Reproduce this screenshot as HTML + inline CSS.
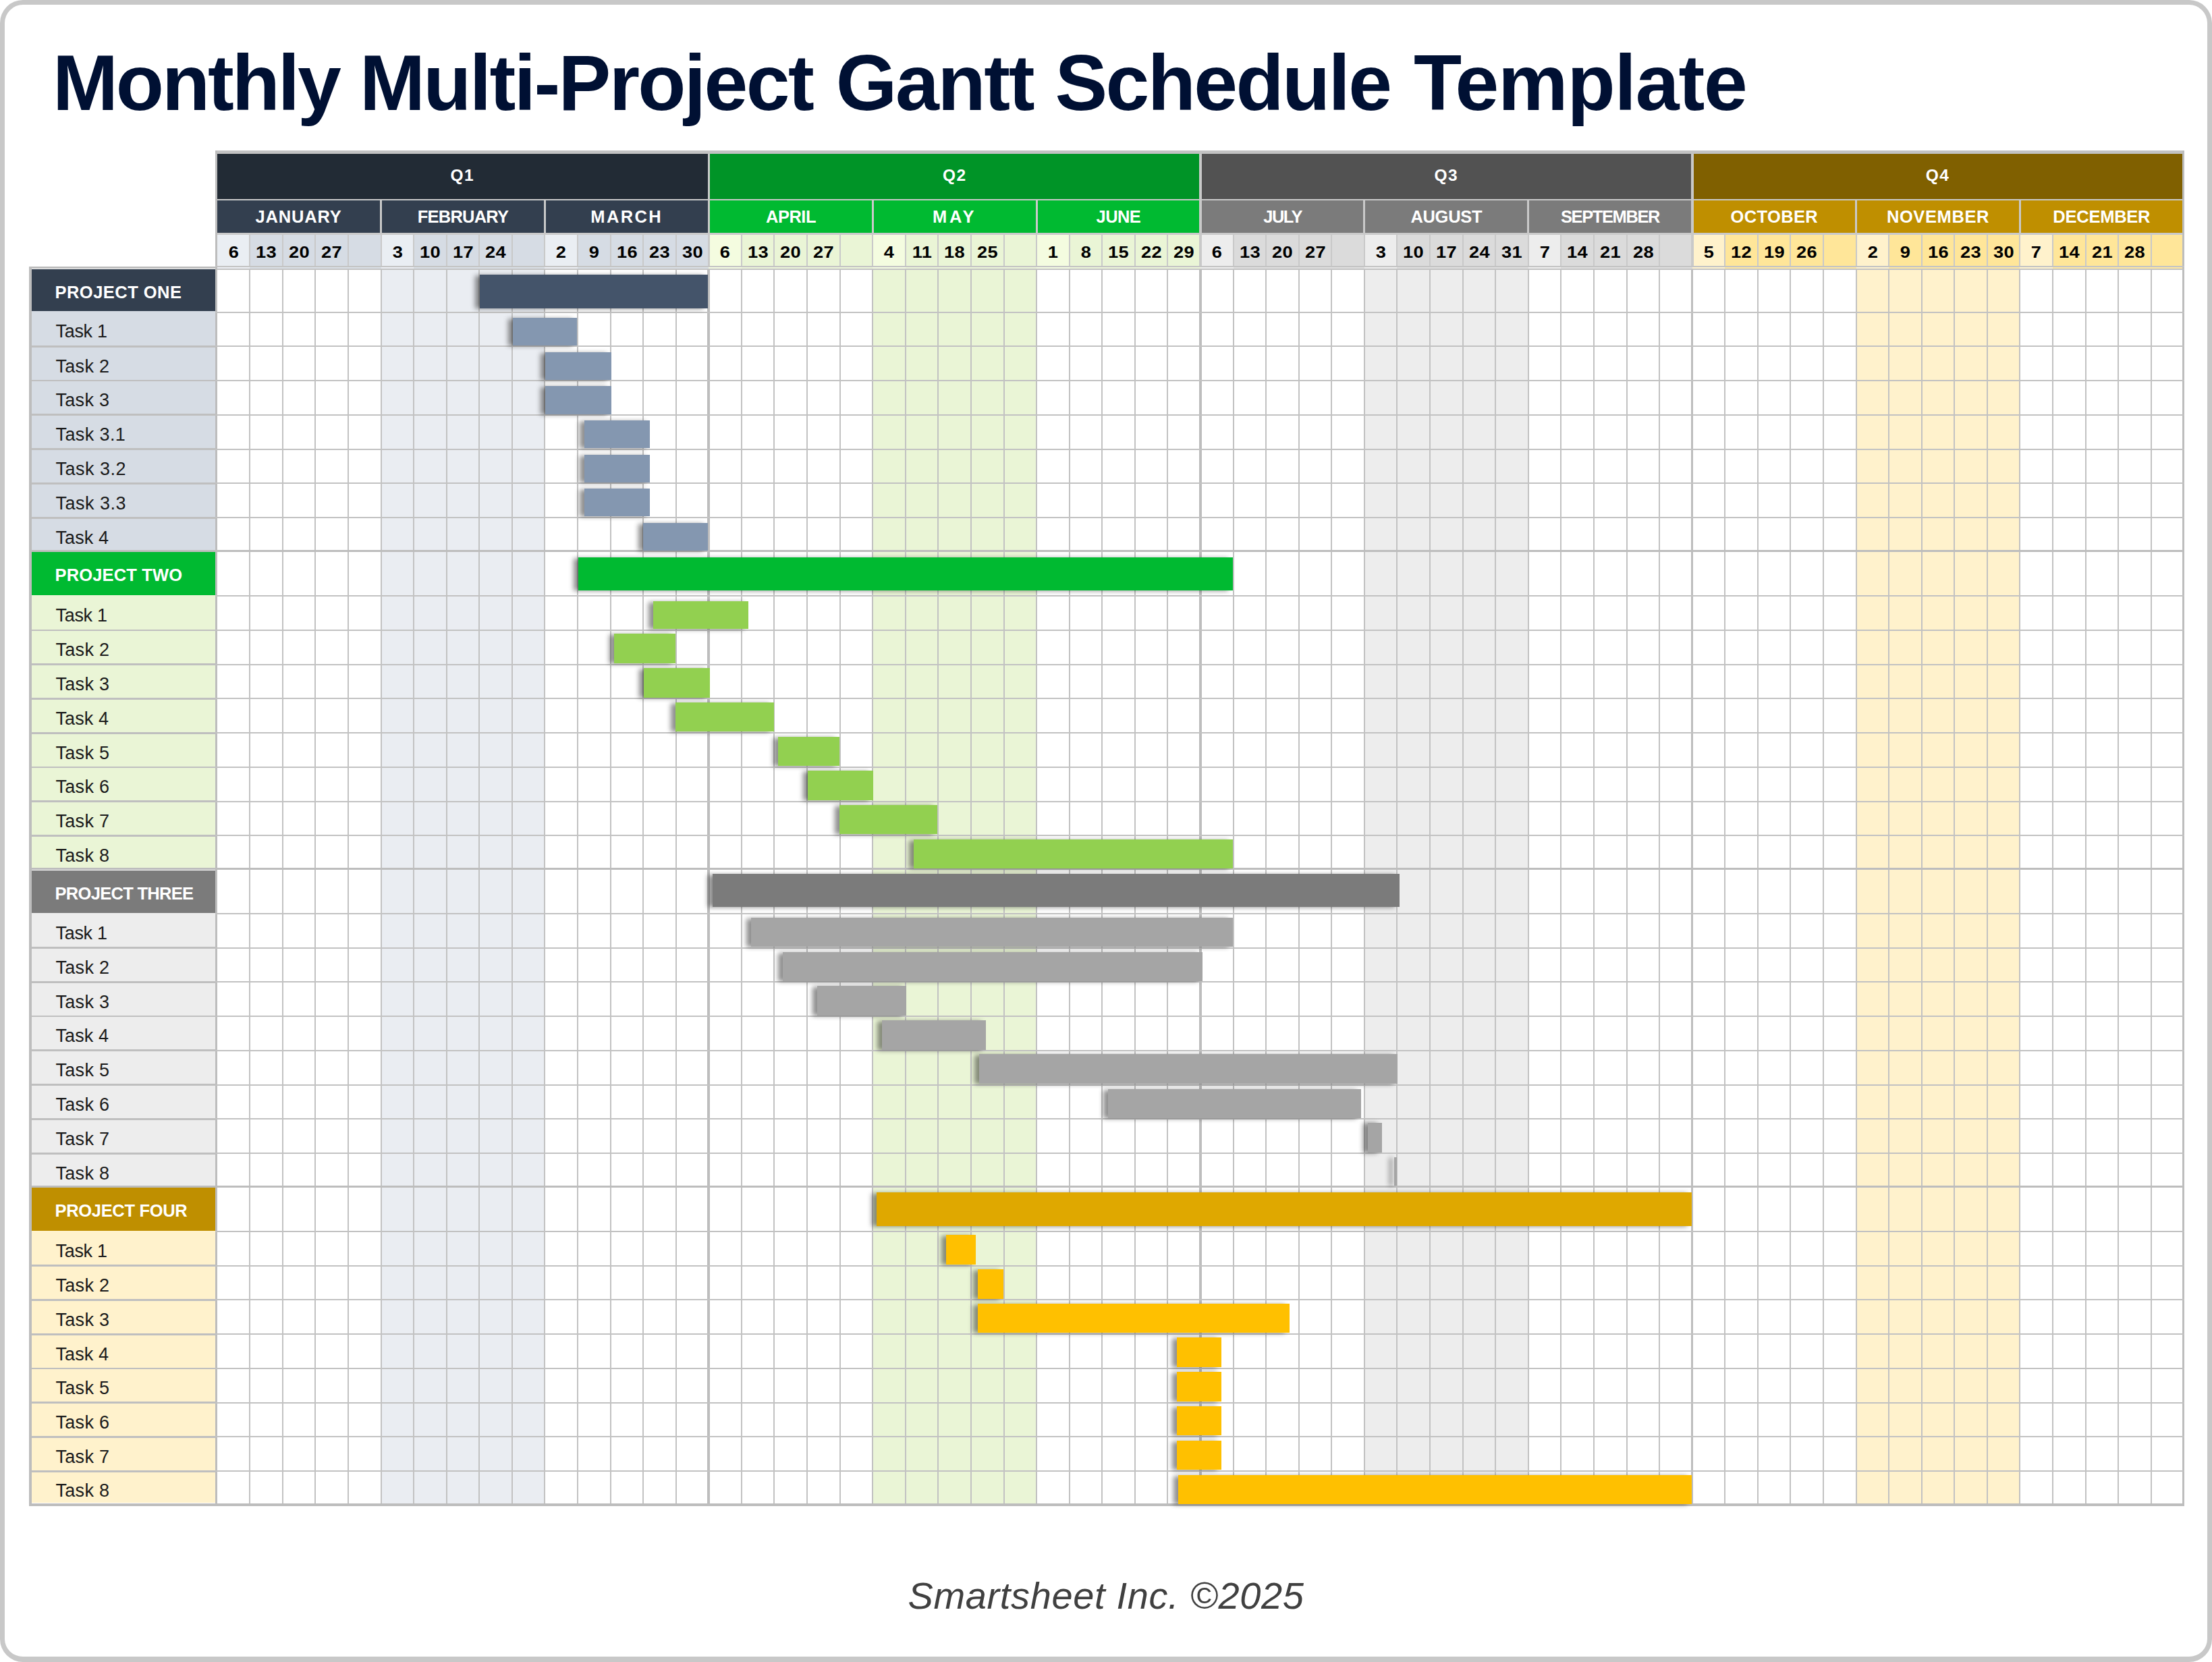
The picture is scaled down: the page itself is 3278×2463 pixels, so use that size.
<!DOCTYPE html>
<html lang="en">
<head>
<meta charset="utf-8">
<title>Monthly Multi-Project Gantt Schedule Template</title>
<style>
html,body{margin:0;padding:0;background:#fff;}
body{width:3278px;height:2463px;position:relative;overflow:hidden;font-family:"Liberation Sans",sans-serif;}
.frame{position:absolute;left:0;top:0;width:3278px;height:2463px;box-sizing:border-box;border:7px solid #c8c8c8;border-bottom-width:8px;border-radius:34px;background:#fff;}
#chart div{position:absolute;box-sizing:border-box;white-space:nowrap;}
.title span{position:absolute;top:0;}
.title{position:absolute;left:0;top:58.25px;width:3000px;height:130px;font-size:116.5px;line-height:130px;font-weight:bold;color:#001033;letter-spacing:-2.1px;white-space:nowrap;}
.footer{position:absolute;left:0;width:3278px;top:2330px;text-align:center;font-size:56px;line-height:70px;font-style:italic;color:#404040;letter-spacing:0.65px;white-space:nowrap;}
.qh,.mh,.dh{text-align:center;font-weight:bold;}
.qh{color:#fff;font-size:24.5px;letter-spacing:1.5px;margin-top:-1px;}
.mh{color:#fff;font-size:25.5px;letter-spacing:0.4px;padding-top:1px;}
.dh{color:#000;font-size:24.8px;letter-spacing:0.4px;padding-top:3px;padding-left:0.5px;transform:scaleX(1.1);}
.pl{color:#fff;font-weight:bold;font-size:25.5px;padding-left:35px;letter-spacing:0.2px;}
.tl{color:#1a1a1a;font-size:27px;padding-left:36px;letter-spacing:-0.3px;}
.bar{box-shadow:-7px 0.5px 7px rgba(0,0,0,0.44);}
</style>
</head>
<body>
<div class="frame"></div>
<div class="title"><span style="left:77.9px;letter-spacing:-3.10px">Monthly</span> <span style="left:532.9px;letter-spacing:-2.64px">Multi-Project</span> <span style="left:1238.7px;letter-spacing:-2.35px">Gantt</span> <span style="left:1563.4px;letter-spacing:-2.60px">Schedule</span> <span style="left:2095.0px;letter-spacing:-1.14px">Template</span></div>
<div id="chart">
<div style="left:319.00px;top:223.30px;width:2918.40px;height:172.70px;background:#c9c9c9;"></div>
<div style="left:319.00px;top:223.30px;width:2918.40px;height:4.45px;background:#c2c2c2;"></div>
<div style="left:319.00px;top:223.30px;width:3.20px;height:172.70px;background:#bdbdbd;"></div>
<div style="left:3233.60px;top:223.30px;width:3.80px;height:177.00px;background:#bdbdbd;"></div>
<div style="left:319.00px;top:393.60px;width:2918.40px;height:2.40px;background:#c4c4c4;"></div>
<div style="left:322.20px;top:396.00px;width:2912.30px;height:2.40px;background:#f1f3f6;"></div>
<div style="left:319.00px;top:398.40px;width:2918.40px;height:1.90px;background:#c2c2c2;"></div>
<div style="left:322.15px;top:227.75px;width:726.37px;height:66.75px;background:#222B35;"></div>
<div class="qh" style="left:322.15px;top:227.75px;width:726.37px;height:66.75px;line-height:66.75px;">Q1</div>
<div style="left:322.15px;top:297.20px;width:240.89px;height:47.80px;background:#333F4F;"></div>
<div class="mh" style="left:322.15px;top:297.20px;width:240.89px;height:47.80px;line-height:47.80px;letter-spacing:0.80px;">JANUARY</div>
<div style="left:322.15px;top:347.50px;width:47.08px;height:46.10px;background:#EAEEF3;"></div>
<div style="left:322.20px;top:396.00px;width:48.03px;height:2.40px;background:#eceff4;"></div>
<div class="dh" style="left:321.65px;top:347.50px;width:48.58px;height:46.10px;line-height:46.10px;">6</div>
<div style="left:371.23px;top:347.50px;width:46.58px;height:46.10px;background:#D6DCE4;"></div>
<div style="left:370.23px;top:396.00px;width:48.58px;height:2.40px;background:#d9dfe6;"></div>
<div class="dh" style="left:370.23px;top:347.50px;width:48.58px;height:46.10px;line-height:46.10px;">13</div>
<div style="left:419.81px;top:347.50px;width:46.58px;height:46.10px;background:#D6DCE4;"></div>
<div style="left:418.81px;top:396.00px;width:48.58px;height:2.40px;background:#d9dfe6;"></div>
<div class="dh" style="left:418.81px;top:347.50px;width:48.58px;height:46.10px;line-height:46.10px;">20</div>
<div style="left:468.38px;top:347.50px;width:46.58px;height:46.10px;background:#D6DCE4;"></div>
<div style="left:467.38px;top:396.00px;width:48.58px;height:2.40px;background:#d9dfe6;"></div>
<div class="dh" style="left:467.38px;top:347.50px;width:48.58px;height:46.10px;line-height:46.10px;">27</div>
<div style="left:516.96px;top:347.50px;width:46.58px;height:46.10px;background:#D6DCE4;"></div>
<div style="left:515.96px;top:396.00px;width:48.58px;height:2.40px;background:#d9dfe6;"></div>
<div style="left:566.04px;top:297.20px;width:239.89px;height:47.80px;background:#333F4F;"></div>
<div class="mh" style="left:566.04px;top:297.20px;width:239.89px;height:47.80px;line-height:47.80px;letter-spacing:-0.80px;">FEBRUARY</div>
<div style="left:565.54px;top:347.50px;width:46.58px;height:46.10px;background:#EAEEF3;"></div>
<div style="left:564.54px;top:396.00px;width:48.58px;height:2.40px;background:#eceff4;"></div>
<div class="dh" style="left:564.54px;top:347.50px;width:48.58px;height:46.10px;line-height:46.10px;">3</div>
<div style="left:614.12px;top:347.50px;width:46.58px;height:46.10px;background:#D6DCE4;"></div>
<div style="left:613.12px;top:396.00px;width:48.58px;height:2.40px;background:#d9dfe6;"></div>
<div class="dh" style="left:613.12px;top:347.50px;width:48.58px;height:46.10px;line-height:46.10px;">10</div>
<div style="left:662.70px;top:347.50px;width:46.58px;height:46.10px;background:#D6DCE4;"></div>
<div style="left:661.70px;top:396.00px;width:48.58px;height:2.40px;background:#d9dfe6;"></div>
<div class="dh" style="left:661.70px;top:347.50px;width:48.58px;height:46.10px;line-height:46.10px;">17</div>
<div style="left:711.27px;top:347.50px;width:46.58px;height:46.10px;background:#D6DCE4;"></div>
<div style="left:710.27px;top:396.00px;width:48.58px;height:2.40px;background:#d9dfe6;"></div>
<div class="dh" style="left:710.27px;top:347.50px;width:48.58px;height:46.10px;line-height:46.10px;">24</div>
<div style="left:759.85px;top:347.50px;width:46.58px;height:46.10px;background:#D6DCE4;"></div>
<div style="left:758.85px;top:396.00px;width:48.58px;height:2.40px;background:#d9dfe6;"></div>
<div style="left:808.93px;top:297.20px;width:239.59px;height:47.80px;background:#333F4F;"></div>
<div class="mh" style="left:808.93px;top:297.20px;width:239.59px;height:47.80px;line-height:47.80px;letter-spacing:2.40px;">MARCH</div>
<div style="left:808.43px;top:347.50px;width:46.58px;height:46.10px;background:#EAEEF3;"></div>
<div style="left:807.43px;top:396.00px;width:48.58px;height:2.40px;background:#eceff4;"></div>
<div class="dh" style="left:807.43px;top:347.50px;width:48.58px;height:46.10px;line-height:46.10px;">2</div>
<div style="left:857.01px;top:347.50px;width:46.58px;height:46.10px;background:#D6DCE4;"></div>
<div style="left:856.01px;top:396.00px;width:48.58px;height:2.40px;background:#d9dfe6;"></div>
<div class="dh" style="left:856.01px;top:347.50px;width:48.58px;height:46.10px;line-height:46.10px;">9</div>
<div style="left:905.59px;top:347.50px;width:46.58px;height:46.10px;background:#D6DCE4;"></div>
<div style="left:904.59px;top:396.00px;width:48.58px;height:2.40px;background:#d9dfe6;"></div>
<div class="dh" style="left:904.59px;top:347.50px;width:48.58px;height:46.10px;line-height:46.10px;">16</div>
<div style="left:954.16px;top:347.50px;width:46.58px;height:46.10px;background:#D6DCE4;"></div>
<div style="left:953.16px;top:396.00px;width:48.58px;height:2.40px;background:#d9dfe6;"></div>
<div class="dh" style="left:953.16px;top:347.50px;width:48.58px;height:46.10px;line-height:46.10px;">23</div>
<div style="left:1002.74px;top:347.50px;width:45.78px;height:46.10px;background:#D6DCE4;"></div>
<div style="left:1001.74px;top:396.00px;width:48.58px;height:2.40px;background:#d9dfe6;"></div>
<div class="dh" style="left:1001.74px;top:347.50px;width:48.58px;height:46.10px;line-height:46.10px;">30</div>
<div style="left:1052.32px;top:227.75px;width:724.87px;height:66.75px;background:#009427;"></div>
<div class="qh" style="left:1052.32px;top:227.75px;width:724.87px;height:66.75px;line-height:66.75px;">Q2</div>
<div style="left:1052.32px;top:297.20px;width:239.39px;height:47.80px;background:#00BA31;"></div>
<div class="mh" style="left:1052.32px;top:297.20px;width:239.39px;height:47.80px;line-height:47.80px;letter-spacing:-0.50px;">APRIL</div>
<div style="left:1052.32px;top:347.50px;width:45.58px;height:46.10px;background:#F4FCE0;"></div>
<div style="left:1050.32px;top:396.00px;width:48.58px;height:2.40px;background:#f5fce2;"></div>
<div class="dh" style="left:1050.32px;top:347.50px;width:48.58px;height:46.10px;line-height:46.10px;">6</div>
<div style="left:1099.90px;top:347.50px;width:46.58px;height:46.10px;background:#EAF5D6;"></div>
<div style="left:1098.90px;top:396.00px;width:48.58px;height:2.40px;background:#ecf6d9;"></div>
<div class="dh" style="left:1098.90px;top:347.50px;width:48.58px;height:46.10px;line-height:46.10px;">13</div>
<div style="left:1148.48px;top:347.50px;width:46.58px;height:46.10px;background:#EAF5D6;"></div>
<div style="left:1147.48px;top:396.00px;width:48.58px;height:2.40px;background:#ecf6d9;"></div>
<div class="dh" style="left:1147.48px;top:347.50px;width:48.58px;height:46.10px;line-height:46.10px;">20</div>
<div style="left:1197.05px;top:347.50px;width:46.58px;height:46.10px;background:#EAF5D6;"></div>
<div style="left:1196.05px;top:396.00px;width:48.58px;height:2.40px;background:#ecf6d9;"></div>
<div class="dh" style="left:1196.05px;top:347.50px;width:48.58px;height:46.10px;line-height:46.10px;">27</div>
<div style="left:1245.63px;top:347.50px;width:46.58px;height:46.10px;background:#EAF5D6;"></div>
<div style="left:1244.63px;top:396.00px;width:48.58px;height:2.40px;background:#ecf6d9;"></div>
<div style="left:1294.71px;top:297.20px;width:239.89px;height:47.80px;background:#00BA31;"></div>
<div class="mh" style="left:1294.71px;top:297.20px;width:239.89px;height:47.80px;line-height:47.80px;letter-spacing:3.60px;">MAY</div>
<div style="left:1294.21px;top:347.50px;width:46.58px;height:46.10px;background:#F4FCE0;"></div>
<div style="left:1293.21px;top:396.00px;width:48.58px;height:2.40px;background:#f5fce2;"></div>
<div class="dh" style="left:1293.21px;top:347.50px;width:48.58px;height:46.10px;line-height:46.10px;">4</div>
<div style="left:1342.79px;top:347.50px;width:46.58px;height:46.10px;background:#EAF5D6;"></div>
<div style="left:1341.79px;top:396.00px;width:48.58px;height:2.40px;background:#ecf6d9;"></div>
<div class="dh" style="left:1341.79px;top:347.50px;width:48.58px;height:46.10px;line-height:46.10px;">11</div>
<div style="left:1391.37px;top:347.50px;width:46.58px;height:46.10px;background:#EAF5D6;"></div>
<div style="left:1390.37px;top:396.00px;width:48.58px;height:2.40px;background:#ecf6d9;"></div>
<div class="dh" style="left:1390.37px;top:347.50px;width:48.58px;height:46.10px;line-height:46.10px;">18</div>
<div style="left:1439.94px;top:347.50px;width:46.58px;height:46.10px;background:#EAF5D6;"></div>
<div style="left:1438.94px;top:396.00px;width:48.58px;height:2.40px;background:#ecf6d9;"></div>
<div class="dh" style="left:1438.94px;top:347.50px;width:48.58px;height:46.10px;line-height:46.10px;">25</div>
<div style="left:1488.52px;top:347.50px;width:46.58px;height:46.10px;background:#EAF5D6;"></div>
<div style="left:1487.52px;top:396.00px;width:48.58px;height:2.40px;background:#ecf6d9;"></div>
<div style="left:1537.60px;top:297.20px;width:239.59px;height:47.80px;background:#00BA31;"></div>
<div class="mh" style="left:1537.60px;top:297.20px;width:239.59px;height:47.80px;line-height:47.80px;letter-spacing:-0.60px;">JUNE</div>
<div style="left:1537.10px;top:347.50px;width:46.58px;height:46.10px;background:#F4FCE0;"></div>
<div style="left:1536.10px;top:396.00px;width:48.58px;height:2.40px;background:#f5fce2;"></div>
<div class="dh" style="left:1536.10px;top:347.50px;width:48.58px;height:46.10px;line-height:46.10px;">1</div>
<div style="left:1585.68px;top:347.50px;width:46.58px;height:46.10px;background:#EAF5D6;"></div>
<div style="left:1584.68px;top:396.00px;width:48.58px;height:2.40px;background:#ecf6d9;"></div>
<div class="dh" style="left:1584.68px;top:347.50px;width:48.58px;height:46.10px;line-height:46.10px;">8</div>
<div style="left:1634.26px;top:347.50px;width:46.58px;height:46.10px;background:#EAF5D6;"></div>
<div style="left:1633.26px;top:396.00px;width:48.58px;height:2.40px;background:#ecf6d9;"></div>
<div class="dh" style="left:1633.26px;top:347.50px;width:48.58px;height:46.10px;line-height:46.10px;">15</div>
<div style="left:1682.83px;top:347.50px;width:46.58px;height:46.10px;background:#EAF5D6;"></div>
<div style="left:1681.83px;top:396.00px;width:48.58px;height:2.40px;background:#ecf6d9;"></div>
<div class="dh" style="left:1681.83px;top:347.50px;width:48.58px;height:46.10px;line-height:46.10px;">22</div>
<div style="left:1731.41px;top:347.50px;width:45.78px;height:46.10px;background:#EAF5D6;"></div>
<div style="left:1730.41px;top:396.00px;width:48.58px;height:2.40px;background:#ecf6d9;"></div>
<div class="dh" style="left:1730.41px;top:347.50px;width:48.58px;height:46.10px;line-height:46.10px;">29</div>
<div style="left:1780.99px;top:227.75px;width:724.87px;height:66.75px;background:#525252;"></div>
<div class="qh" style="left:1780.99px;top:227.75px;width:724.87px;height:66.75px;line-height:66.75px;">Q3</div>
<div style="left:1780.99px;top:297.20px;width:239.39px;height:47.80px;background:#7B7B7B;"></div>
<div class="mh" style="left:1780.99px;top:297.20px;width:239.39px;height:47.80px;line-height:47.80px;letter-spacing:-1.50px;">JULY</div>
<div style="left:1780.99px;top:347.50px;width:45.58px;height:46.10px;background:#EDEDED;"></div>
<div style="left:1778.99px;top:396.00px;width:48.58px;height:2.40px;background:#eeeeee;"></div>
<div class="dh" style="left:1778.99px;top:347.50px;width:48.58px;height:46.10px;line-height:46.10px;">6</div>
<div style="left:1828.57px;top:347.50px;width:46.58px;height:46.10px;background:#DBDBDB;"></div>
<div style="left:1827.57px;top:396.00px;width:48.58px;height:2.40px;background:#dedede;"></div>
<div class="dh" style="left:1827.57px;top:347.50px;width:48.58px;height:46.10px;line-height:46.10px;">13</div>
<div style="left:1877.15px;top:347.50px;width:46.58px;height:46.10px;background:#DBDBDB;"></div>
<div style="left:1876.15px;top:396.00px;width:48.58px;height:2.40px;background:#dedede;"></div>
<div class="dh" style="left:1876.15px;top:347.50px;width:48.58px;height:46.10px;line-height:46.10px;">20</div>
<div style="left:1925.72px;top:347.50px;width:46.58px;height:46.10px;background:#DBDBDB;"></div>
<div style="left:1924.72px;top:396.00px;width:48.58px;height:2.40px;background:#dedede;"></div>
<div class="dh" style="left:1924.72px;top:347.50px;width:48.58px;height:46.10px;line-height:46.10px;">27</div>
<div style="left:1974.30px;top:347.50px;width:46.58px;height:46.10px;background:#DBDBDB;"></div>
<div style="left:1973.30px;top:396.00px;width:48.58px;height:2.40px;background:#dedede;"></div>
<div style="left:2023.38px;top:297.20px;width:239.89px;height:47.80px;background:#7B7B7B;"></div>
<div class="mh" style="left:2023.38px;top:297.20px;width:239.89px;height:47.80px;line-height:47.80px;letter-spacing:-0.30px;">AUGUST</div>
<div style="left:2022.88px;top:347.50px;width:46.58px;height:46.10px;background:#EDEDED;"></div>
<div style="left:2021.88px;top:396.00px;width:48.58px;height:2.40px;background:#eeeeee;"></div>
<div class="dh" style="left:2021.88px;top:347.50px;width:48.58px;height:46.10px;line-height:46.10px;">3</div>
<div style="left:2071.46px;top:347.50px;width:46.58px;height:46.10px;background:#DBDBDB;"></div>
<div style="left:2070.46px;top:396.00px;width:48.58px;height:2.40px;background:#dedede;"></div>
<div class="dh" style="left:2070.46px;top:347.50px;width:48.58px;height:46.10px;line-height:46.10px;">10</div>
<div style="left:2120.04px;top:347.50px;width:46.58px;height:46.10px;background:#DBDBDB;"></div>
<div style="left:2119.04px;top:396.00px;width:48.58px;height:2.40px;background:#dedede;"></div>
<div class="dh" style="left:2119.04px;top:347.50px;width:48.58px;height:46.10px;line-height:46.10px;">17</div>
<div style="left:2168.61px;top:347.50px;width:46.58px;height:46.10px;background:#DBDBDB;"></div>
<div style="left:2167.61px;top:396.00px;width:48.58px;height:2.40px;background:#dedede;"></div>
<div class="dh" style="left:2167.61px;top:347.50px;width:48.58px;height:46.10px;line-height:46.10px;">24</div>
<div style="left:2217.19px;top:347.50px;width:46.58px;height:46.10px;background:#DBDBDB;"></div>
<div style="left:2216.19px;top:396.00px;width:48.58px;height:2.40px;background:#dedede;"></div>
<div class="dh" style="left:2216.19px;top:347.50px;width:48.58px;height:46.10px;line-height:46.10px;">31</div>
<div style="left:2266.27px;top:297.20px;width:239.59px;height:47.80px;background:#7B7B7B;"></div>
<div class="mh" style="left:2266.27px;top:297.20px;width:239.59px;height:47.80px;line-height:47.80px;letter-spacing:-1.40px;">SEPTEMBER</div>
<div style="left:2265.77px;top:347.50px;width:46.58px;height:46.10px;background:#EDEDED;"></div>
<div style="left:2264.77px;top:396.00px;width:48.58px;height:2.40px;background:#eeeeee;"></div>
<div class="dh" style="left:2264.77px;top:347.50px;width:48.58px;height:46.10px;line-height:46.10px;">7</div>
<div style="left:2314.35px;top:347.50px;width:46.58px;height:46.10px;background:#DBDBDB;"></div>
<div style="left:2313.35px;top:396.00px;width:48.58px;height:2.40px;background:#dedede;"></div>
<div class="dh" style="left:2313.35px;top:347.50px;width:48.58px;height:46.10px;line-height:46.10px;">14</div>
<div style="left:2362.93px;top:347.50px;width:46.58px;height:46.10px;background:#DBDBDB;"></div>
<div style="left:2361.93px;top:396.00px;width:48.58px;height:2.40px;background:#dedede;"></div>
<div class="dh" style="left:2361.93px;top:347.50px;width:48.58px;height:46.10px;line-height:46.10px;">21</div>
<div style="left:2411.50px;top:347.50px;width:46.58px;height:46.10px;background:#DBDBDB;"></div>
<div style="left:2410.50px;top:396.00px;width:48.58px;height:2.40px;background:#dedede;"></div>
<div class="dh" style="left:2410.50px;top:347.50px;width:48.58px;height:46.10px;line-height:46.10px;">28</div>
<div style="left:2460.08px;top:347.50px;width:45.78px;height:46.10px;background:#DBDBDB;"></div>
<div style="left:2459.08px;top:396.00px;width:48.58px;height:2.40px;background:#dedede;"></div>
<div style="left:2509.66px;top:227.75px;width:723.94px;height:66.75px;background:#806000;"></div>
<div class="qh" style="left:2509.66px;top:227.75px;width:723.94px;height:66.75px;line-height:66.75px;">Q4</div>
<div style="left:2509.66px;top:297.20px;width:239.39px;height:47.80px;background:#BF8F00;"></div>
<div class="mh" style="left:2509.66px;top:297.20px;width:239.39px;height:47.80px;line-height:47.80px;letter-spacing:0.35px;">OCTOBER</div>
<div style="left:2509.66px;top:347.50px;width:45.58px;height:46.10px;background:#FFF2CC;"></div>
<div style="left:2507.66px;top:396.00px;width:48.58px;height:2.40px;background:#fff3d0;"></div>
<div class="dh" style="left:2507.66px;top:347.50px;width:48.58px;height:46.10px;line-height:46.10px;">5</div>
<div style="left:2557.24px;top:347.50px;width:46.58px;height:46.10px;background:#FFE699;"></div>
<div style="left:2556.24px;top:396.00px;width:48.58px;height:2.40px;background:#ffe8a1;"></div>
<div class="dh" style="left:2556.24px;top:347.50px;width:48.58px;height:46.10px;line-height:46.10px;">12</div>
<div style="left:2605.82px;top:347.50px;width:46.58px;height:46.10px;background:#FFE699;"></div>
<div style="left:2604.82px;top:396.00px;width:48.58px;height:2.40px;background:#ffe8a1;"></div>
<div class="dh" style="left:2604.82px;top:347.50px;width:48.58px;height:46.10px;line-height:46.10px;">19</div>
<div style="left:2654.39px;top:347.50px;width:46.58px;height:46.10px;background:#FFE699;"></div>
<div style="left:2653.39px;top:396.00px;width:48.58px;height:2.40px;background:#ffe8a1;"></div>
<div class="dh" style="left:2653.39px;top:347.50px;width:48.58px;height:46.10px;line-height:46.10px;">26</div>
<div style="left:2702.97px;top:347.50px;width:46.58px;height:46.10px;background:#FFE699;"></div>
<div style="left:2701.97px;top:396.00px;width:48.58px;height:2.40px;background:#ffe8a1;"></div>
<div style="left:2752.05px;top:297.20px;width:239.89px;height:47.80px;background:#BF8F00;"></div>
<div class="mh" style="left:2752.05px;top:297.20px;width:239.89px;height:47.80px;line-height:47.80px;letter-spacing:0.60px;">NOVEMBER</div>
<div style="left:2751.55px;top:347.50px;width:46.58px;height:46.10px;background:#FFF2CC;"></div>
<div style="left:2750.55px;top:396.00px;width:48.58px;height:2.40px;background:#fff3d0;"></div>
<div class="dh" style="left:2750.55px;top:347.50px;width:48.58px;height:46.10px;line-height:46.10px;">2</div>
<div style="left:2800.13px;top:347.50px;width:46.58px;height:46.10px;background:#FFE699;"></div>
<div style="left:2799.13px;top:396.00px;width:48.58px;height:2.40px;background:#ffe8a1;"></div>
<div class="dh" style="left:2799.13px;top:347.50px;width:48.58px;height:46.10px;line-height:46.10px;">9</div>
<div style="left:2848.71px;top:347.50px;width:46.58px;height:46.10px;background:#FFE699;"></div>
<div style="left:2847.71px;top:396.00px;width:48.58px;height:2.40px;background:#ffe8a1;"></div>
<div class="dh" style="left:2847.71px;top:347.50px;width:48.58px;height:46.10px;line-height:46.10px;">16</div>
<div style="left:2897.28px;top:347.50px;width:46.58px;height:46.10px;background:#FFE699;"></div>
<div style="left:2896.28px;top:396.00px;width:48.58px;height:2.40px;background:#ffe8a1;"></div>
<div class="dh" style="left:2896.28px;top:347.50px;width:48.58px;height:46.10px;line-height:46.10px;">23</div>
<div style="left:2945.86px;top:347.50px;width:46.58px;height:46.10px;background:#FFE699;"></div>
<div style="left:2944.86px;top:396.00px;width:48.58px;height:2.40px;background:#ffe8a1;"></div>
<div class="dh" style="left:2944.86px;top:347.50px;width:48.58px;height:46.10px;line-height:46.10px;">30</div>
<div style="left:2994.94px;top:297.20px;width:238.66px;height:47.80px;background:#BF8F00;"></div>
<div class="mh" style="left:2994.94px;top:297.20px;width:238.66px;height:47.80px;line-height:47.80px;letter-spacing:-0.25px;">DECEMBER</div>
<div style="left:2994.44px;top:347.50px;width:46.58px;height:46.10px;background:#FFF2CC;"></div>
<div style="left:2993.44px;top:396.00px;width:48.58px;height:2.40px;background:#fff3d0;"></div>
<div class="dh" style="left:2993.44px;top:347.50px;width:48.58px;height:46.10px;line-height:46.10px;">7</div>
<div style="left:3043.02px;top:347.50px;width:46.58px;height:46.10px;background:#FFE699;"></div>
<div style="left:3042.02px;top:396.00px;width:48.58px;height:2.40px;background:#ffe8a1;"></div>
<div class="dh" style="left:3042.02px;top:347.50px;width:48.58px;height:46.10px;line-height:46.10px;">14</div>
<div style="left:3091.60px;top:347.50px;width:46.58px;height:46.10px;background:#FFE699;"></div>
<div style="left:3090.60px;top:396.00px;width:48.58px;height:2.40px;background:#ffe8a1;"></div>
<div class="dh" style="left:3090.60px;top:347.50px;width:48.58px;height:46.10px;line-height:46.10px;">21</div>
<div style="left:3140.17px;top:347.50px;width:46.58px;height:46.10px;background:#FFE699;"></div>
<div style="left:3139.17px;top:396.00px;width:48.58px;height:2.40px;background:#ffe8a1;"></div>
<div class="dh" style="left:3139.17px;top:347.50px;width:48.58px;height:46.10px;line-height:46.10px;">28</div>
<div style="left:3188.75px;top:347.50px;width:44.85px;height:46.10px;background:#FFE699;"></div>
<div style="left:3187.75px;top:396.00px;width:46.25px;height:2.40px;background:#ffe8a1;"></div>
<div style="left:564.54px;top:400.30px;width:242.89px;height:1829.30px;background:#EAEDF2;"></div>
<div style="left:1293.21px;top:400.30px;width:242.89px;height:1829.30px;background:#EAF5D6;"></div>
<div style="left:2021.88px;top:400.30px;width:242.89px;height:1829.30px;background:#EDEDED;"></div>
<div style="left:2750.55px;top:400.30px;width:242.89px;height:1829.30px;background:#FFF2CC;"></div>
<div style="left:319.00px;top:395.00px;width:3.20px;height:1836.70px;background:#bdbdbd;"></div>
<div style="left:369.23px;top:400.30px;width:2.00px;height:1829.30px;background:#c2c2c2;"></div>
<div style="left:417.81px;top:400.30px;width:2.00px;height:1829.30px;background:#c2c2c2;"></div>
<div style="left:466.38px;top:400.30px;width:2.00px;height:1829.30px;background:#c2c2c2;"></div>
<div style="left:514.96px;top:400.30px;width:2.00px;height:1829.30px;background:#c2c2c2;"></div>
<div style="left:563.54px;top:400.30px;width:2.00px;height:1829.30px;background:#c2c2c2;"></div>
<div style="left:612.12px;top:400.30px;width:2.00px;height:1829.30px;background:#c2c2c2;"></div>
<div style="left:660.70px;top:400.30px;width:2.00px;height:1829.30px;background:#c2c2c2;"></div>
<div style="left:709.27px;top:400.30px;width:2.00px;height:1829.30px;background:#c2c2c2;"></div>
<div style="left:757.85px;top:400.30px;width:2.00px;height:1829.30px;background:#c2c2c2;"></div>
<div style="left:806.43px;top:400.30px;width:2.00px;height:1829.30px;background:#c2c2c2;"></div>
<div style="left:855.01px;top:400.30px;width:2.00px;height:1829.30px;background:#c2c2c2;"></div>
<div style="left:903.59px;top:400.30px;width:2.00px;height:1829.30px;background:#c2c2c2;"></div>
<div style="left:952.16px;top:400.30px;width:2.00px;height:1829.30px;background:#c2c2c2;"></div>
<div style="left:1000.74px;top:400.30px;width:2.00px;height:1829.30px;background:#c2c2c2;"></div>
<div style="left:1048.32px;top:400.30px;width:3.80px;height:1829.30px;background:#bdbdbd;"></div>
<div style="left:1097.90px;top:400.30px;width:2.00px;height:1829.30px;background:#c2c2c2;"></div>
<div style="left:1146.48px;top:400.30px;width:2.00px;height:1829.30px;background:#c2c2c2;"></div>
<div style="left:1195.05px;top:400.30px;width:2.00px;height:1829.30px;background:#c2c2c2;"></div>
<div style="left:1243.63px;top:400.30px;width:2.00px;height:1829.30px;background:#c2c2c2;"></div>
<div style="left:1292.21px;top:400.30px;width:2.00px;height:1829.30px;background:#c2c2c2;"></div>
<div style="left:1340.79px;top:400.30px;width:2.00px;height:1829.30px;background:#c2c2c2;"></div>
<div style="left:1389.37px;top:400.30px;width:2.00px;height:1829.30px;background:#c2c2c2;"></div>
<div style="left:1437.94px;top:400.30px;width:2.00px;height:1829.30px;background:#c2c2c2;"></div>
<div style="left:1486.52px;top:400.30px;width:2.00px;height:1829.30px;background:#c2c2c2;"></div>
<div style="left:1535.10px;top:400.30px;width:2.00px;height:1829.30px;background:#c2c2c2;"></div>
<div style="left:1583.68px;top:400.30px;width:2.00px;height:1829.30px;background:#c2c2c2;"></div>
<div style="left:1632.26px;top:400.30px;width:2.00px;height:1829.30px;background:#c2c2c2;"></div>
<div style="left:1680.83px;top:400.30px;width:2.00px;height:1829.30px;background:#c2c2c2;"></div>
<div style="left:1729.41px;top:400.30px;width:2.00px;height:1829.30px;background:#c2c2c2;"></div>
<div style="left:1776.99px;top:400.30px;width:3.80px;height:1829.30px;background:#bdbdbd;"></div>
<div style="left:1826.57px;top:400.30px;width:2.00px;height:1829.30px;background:#c2c2c2;"></div>
<div style="left:1875.15px;top:400.30px;width:2.00px;height:1829.30px;background:#c2c2c2;"></div>
<div style="left:1923.72px;top:400.30px;width:2.00px;height:1829.30px;background:#c2c2c2;"></div>
<div style="left:1972.30px;top:400.30px;width:2.00px;height:1829.30px;background:#c2c2c2;"></div>
<div style="left:2020.88px;top:400.30px;width:2.00px;height:1829.30px;background:#c2c2c2;"></div>
<div style="left:2069.46px;top:400.30px;width:2.00px;height:1829.30px;background:#c2c2c2;"></div>
<div style="left:2118.04px;top:400.30px;width:2.00px;height:1829.30px;background:#c2c2c2;"></div>
<div style="left:2166.61px;top:400.30px;width:2.00px;height:1829.30px;background:#c2c2c2;"></div>
<div style="left:2215.19px;top:400.30px;width:2.00px;height:1829.30px;background:#c2c2c2;"></div>
<div style="left:2263.77px;top:400.30px;width:2.00px;height:1829.30px;background:#c2c2c2;"></div>
<div style="left:2312.35px;top:400.30px;width:2.00px;height:1829.30px;background:#c2c2c2;"></div>
<div style="left:2360.93px;top:400.30px;width:2.00px;height:1829.30px;background:#c2c2c2;"></div>
<div style="left:2409.50px;top:400.30px;width:2.00px;height:1829.30px;background:#c2c2c2;"></div>
<div style="left:2458.08px;top:400.30px;width:2.00px;height:1829.30px;background:#c2c2c2;"></div>
<div style="left:2505.66px;top:400.30px;width:3.80px;height:1829.30px;background:#bdbdbd;"></div>
<div style="left:2555.24px;top:400.30px;width:2.00px;height:1829.30px;background:#c2c2c2;"></div>
<div style="left:2603.82px;top:400.30px;width:2.00px;height:1829.30px;background:#c2c2c2;"></div>
<div style="left:2652.39px;top:400.30px;width:2.00px;height:1829.30px;background:#c2c2c2;"></div>
<div style="left:2700.97px;top:400.30px;width:2.00px;height:1829.30px;background:#c2c2c2;"></div>
<div style="left:2749.55px;top:400.30px;width:2.00px;height:1829.30px;background:#c2c2c2;"></div>
<div style="left:2798.13px;top:400.30px;width:2.00px;height:1829.30px;background:#c2c2c2;"></div>
<div style="left:2846.71px;top:400.30px;width:2.00px;height:1829.30px;background:#c2c2c2;"></div>
<div style="left:2895.28px;top:400.30px;width:2.00px;height:1829.30px;background:#c2c2c2;"></div>
<div style="left:2943.86px;top:400.30px;width:2.00px;height:1829.30px;background:#c2c2c2;"></div>
<div style="left:2992.44px;top:400.30px;width:2.00px;height:1829.30px;background:#c2c2c2;"></div>
<div style="left:3041.02px;top:400.30px;width:2.00px;height:1829.30px;background:#c2c2c2;"></div>
<div style="left:3089.60px;top:400.30px;width:2.00px;height:1829.30px;background:#c2c2c2;"></div>
<div style="left:3138.17px;top:400.30px;width:2.00px;height:1829.30px;background:#c2c2c2;"></div>
<div style="left:3186.75px;top:400.30px;width:2.00px;height:1829.30px;background:#c2c2c2;"></div>
<div style="left:3233.60px;top:400.30px;width:3.80px;height:1831.40px;background:#bdbdbd;"></div>
<div style="left:319.00px;top:461.50px;width:2918.40px;height:2.00px;background:#c2c2c2;"></div>
<div style="left:43.00px;top:512.29px;width:3194.40px;height:2.00px;background:#c2c2c2;"></div>
<div style="left:43.00px;top:511.89px;width:276.00px;height:2.80px;background:#bfbfbf;"></div>
<div style="left:43.00px;top:563.07px;width:3194.40px;height:2.00px;background:#c2c2c2;"></div>
<div style="left:43.00px;top:562.67px;width:276.00px;height:2.80px;background:#bfbfbf;"></div>
<div style="left:43.00px;top:613.86px;width:3194.40px;height:2.00px;background:#c2c2c2;"></div>
<div style="left:43.00px;top:613.46px;width:276.00px;height:2.80px;background:#bfbfbf;"></div>
<div style="left:43.00px;top:664.64px;width:3194.40px;height:2.00px;background:#c2c2c2;"></div>
<div style="left:43.00px;top:664.24px;width:276.00px;height:2.80px;background:#bfbfbf;"></div>
<div style="left:43.00px;top:715.43px;width:3194.40px;height:2.00px;background:#c2c2c2;"></div>
<div style="left:43.00px;top:715.03px;width:276.00px;height:2.80px;background:#bfbfbf;"></div>
<div style="left:43.00px;top:766.21px;width:3194.40px;height:2.00px;background:#c2c2c2;"></div>
<div style="left:43.00px;top:765.81px;width:276.00px;height:2.80px;background:#bfbfbf;"></div>
<div style="left:43.00px;top:814.80px;width:3194.40px;height:3.60px;background:#bdbdbd;"></div>
<div style="left:319.00px;top:882.25px;width:2918.40px;height:2.00px;background:#c2c2c2;"></div>
<div style="left:43.00px;top:932.98px;width:3194.40px;height:2.00px;background:#c2c2c2;"></div>
<div style="left:43.00px;top:932.58px;width:276.00px;height:2.80px;background:#bfbfbf;"></div>
<div style="left:43.00px;top:983.71px;width:3194.40px;height:2.00px;background:#c2c2c2;"></div>
<div style="left:43.00px;top:983.31px;width:276.00px;height:2.80px;background:#bfbfbf;"></div>
<div style="left:43.00px;top:1034.44px;width:3194.40px;height:2.00px;background:#c2c2c2;"></div>
<div style="left:43.00px;top:1034.04px;width:276.00px;height:2.80px;background:#bfbfbf;"></div>
<div style="left:43.00px;top:1085.17px;width:3194.40px;height:2.00px;background:#c2c2c2;"></div>
<div style="left:43.00px;top:1084.77px;width:276.00px;height:2.80px;background:#bfbfbf;"></div>
<div style="left:43.00px;top:1135.91px;width:3194.40px;height:2.00px;background:#c2c2c2;"></div>
<div style="left:43.00px;top:1135.51px;width:276.00px;height:2.80px;background:#bfbfbf;"></div>
<div style="left:43.00px;top:1186.64px;width:3194.40px;height:2.00px;background:#c2c2c2;"></div>
<div style="left:43.00px;top:1186.24px;width:276.00px;height:2.80px;background:#bfbfbf;"></div>
<div style="left:43.00px;top:1237.37px;width:3194.40px;height:2.00px;background:#c2c2c2;"></div>
<div style="left:43.00px;top:1236.97px;width:276.00px;height:2.80px;background:#bfbfbf;"></div>
<div style="left:43.00px;top:1285.90px;width:3194.40px;height:3.60px;background:#bdbdbd;"></div>
<div style="left:319.00px;top:1352.75px;width:2918.40px;height:2.00px;background:#c2c2c2;"></div>
<div style="left:43.00px;top:1403.52px;width:3194.40px;height:2.00px;background:#c2c2c2;"></div>
<div style="left:43.00px;top:1403.12px;width:276.00px;height:2.80px;background:#bfbfbf;"></div>
<div style="left:43.00px;top:1454.29px;width:3194.40px;height:2.00px;background:#c2c2c2;"></div>
<div style="left:43.00px;top:1453.89px;width:276.00px;height:2.80px;background:#bfbfbf;"></div>
<div style="left:43.00px;top:1505.06px;width:3194.40px;height:2.00px;background:#c2c2c2;"></div>
<div style="left:43.00px;top:1504.66px;width:276.00px;height:2.80px;background:#bfbfbf;"></div>
<div style="left:43.00px;top:1555.83px;width:3194.40px;height:2.00px;background:#c2c2c2;"></div>
<div style="left:43.00px;top:1555.42px;width:276.00px;height:2.80px;background:#bfbfbf;"></div>
<div style="left:43.00px;top:1606.59px;width:3194.40px;height:2.00px;background:#c2c2c2;"></div>
<div style="left:43.00px;top:1606.19px;width:276.00px;height:2.80px;background:#bfbfbf;"></div>
<div style="left:43.00px;top:1657.36px;width:3194.40px;height:2.00px;background:#c2c2c2;"></div>
<div style="left:43.00px;top:1656.96px;width:276.00px;height:2.80px;background:#bfbfbf;"></div>
<div style="left:43.00px;top:1708.13px;width:3194.40px;height:2.00px;background:#c2c2c2;"></div>
<div style="left:43.00px;top:1707.73px;width:276.00px;height:2.80px;background:#bfbfbf;"></div>
<div style="left:43.00px;top:1756.70px;width:3194.40px;height:3.60px;background:#bdbdbd;"></div>
<div style="left:319.00px;top:1824.00px;width:2918.40px;height:2.00px;background:#c2c2c2;"></div>
<div style="left:43.00px;top:1874.74px;width:3194.40px;height:2.00px;background:#c2c2c2;"></div>
<div style="left:43.00px;top:1874.34px;width:276.00px;height:2.80px;background:#bfbfbf;"></div>
<div style="left:43.00px;top:1925.47px;width:3194.40px;height:2.00px;background:#c2c2c2;"></div>
<div style="left:43.00px;top:1925.07px;width:276.00px;height:2.80px;background:#bfbfbf;"></div>
<div style="left:43.00px;top:1976.21px;width:3194.40px;height:2.00px;background:#c2c2c2;"></div>
<div style="left:43.00px;top:1975.81px;width:276.00px;height:2.80px;background:#bfbfbf;"></div>
<div style="left:43.00px;top:2026.95px;width:3194.40px;height:2.00px;background:#c2c2c2;"></div>
<div style="left:43.00px;top:2026.55px;width:276.00px;height:2.80px;background:#bfbfbf;"></div>
<div style="left:43.00px;top:2077.69px;width:3194.40px;height:2.00px;background:#c2c2c2;"></div>
<div style="left:43.00px;top:2077.29px;width:276.00px;height:2.80px;background:#bfbfbf;"></div>
<div style="left:43.00px;top:2128.43px;width:3194.40px;height:2.00px;background:#c2c2c2;"></div>
<div style="left:43.00px;top:2128.03px;width:276.00px;height:2.80px;background:#bfbfbf;"></div>
<div style="left:43.00px;top:2179.16px;width:3194.40px;height:2.00px;background:#c2c2c2;"></div>
<div style="left:43.00px;top:2178.76px;width:276.00px;height:2.80px;background:#bfbfbf;"></div>
<div style="left:43.00px;top:2227.50px;width:3194.40px;height:4.20px;background:#bdbdbd;"></div>
<div style="left:43.00px;top:395.30px;width:3.50px;height:1836.40px;background:#bdbdbd;"></div>
<div style="left:43.00px;top:395.30px;width:279.00px;height:3.20px;background:#bdbdbd;"></div>
<div style="left:46.50px;top:398.50px;width:272.50px;height:62.90px;background:#333F4F;"></div>
<div class="pl" style="left:46.50px;top:398.50px;width:272.50px;height:62.90px;line-height:62.90px;padding-top:3px;letter-spacing:0.47px;">PROJECT ONE</div>
<div style="left:46.50px;top:461.40px;width:272.50px;height:50.49px;background:#D6DCE4;"></div>
<div class="tl" style="left:46.50px;top:461.40px;width:272.50px;height:50.49px;line-height:50.49px;padding-top:5px;">Task 1</div>
<div style="left:46.50px;top:514.69px;width:272.50px;height:47.99px;background:#D6DCE4;"></div>
<div class="tl" style="left:46.50px;top:514.69px;width:272.50px;height:47.99px;line-height:47.99px;padding-top:5px;letter-spacing:0.30px;">Task 2</div>
<div style="left:46.50px;top:565.47px;width:272.50px;height:47.99px;background:#D6DCE4;"></div>
<div class="tl" style="left:46.50px;top:565.47px;width:272.50px;height:47.99px;line-height:47.99px;padding-top:5px;letter-spacing:0.30px;">Task 3</div>
<div style="left:46.50px;top:616.26px;width:272.50px;height:47.99px;background:#D6DCE4;"></div>
<div class="tl" style="left:46.50px;top:616.26px;width:272.50px;height:47.99px;line-height:47.99px;padding-top:5px;letter-spacing:0.40px;">Task 3.1</div>
<div style="left:46.50px;top:667.04px;width:272.50px;height:47.99px;background:#D6DCE4;"></div>
<div class="tl" style="left:46.50px;top:667.04px;width:272.50px;height:47.99px;line-height:47.99px;padding-top:5px;letter-spacing:0.50px;">Task 3.2</div>
<div style="left:46.50px;top:717.83px;width:272.50px;height:47.99px;background:#D6DCE4;"></div>
<div class="tl" style="left:46.50px;top:717.83px;width:272.50px;height:47.99px;line-height:47.99px;padding-top:5px;letter-spacing:0.50px;">Task 3.3</div>
<div style="left:46.50px;top:768.61px;width:272.50px;height:46.19px;background:#D6DCE4;"></div>
<div class="tl" style="left:46.50px;top:768.61px;width:272.50px;height:46.19px;line-height:46.19px;padding-top:5px;letter-spacing:0.10px;">Task 4</div>
<div style="left:46.50px;top:818.40px;width:272.50px;height:63.75px;background:#00BA31;"></div>
<div class="pl" style="left:46.50px;top:818.40px;width:272.50px;height:63.75px;line-height:63.75px;padding-top:3px;letter-spacing:0.15px;">PROJECT TWO</div>
<div style="left:46.50px;top:882.15px;width:272.50px;height:50.43px;background:#EAF5D6;"></div>
<div class="tl" style="left:46.50px;top:882.15px;width:272.50px;height:50.43px;line-height:50.43px;padding-top:5px;">Task 1</div>
<div style="left:46.50px;top:935.38px;width:272.50px;height:47.93px;background:#EAF5D6;"></div>
<div class="tl" style="left:46.50px;top:935.38px;width:272.50px;height:47.93px;line-height:47.93px;padding-top:5px;letter-spacing:0.30px;">Task 2</div>
<div style="left:46.50px;top:986.11px;width:272.50px;height:47.93px;background:#EAF5D6;"></div>
<div class="tl" style="left:46.50px;top:986.11px;width:272.50px;height:47.93px;line-height:47.93px;padding-top:5px;letter-spacing:0.30px;">Task 3</div>
<div style="left:46.50px;top:1036.84px;width:272.50px;height:47.93px;background:#EAF5D6;"></div>
<div class="tl" style="left:46.50px;top:1036.84px;width:272.50px;height:47.93px;line-height:47.93px;padding-top:5px;letter-spacing:0.10px;">Task 4</div>
<div style="left:46.50px;top:1087.58px;width:272.50px;height:47.93px;background:#EAF5D6;"></div>
<div class="tl" style="left:46.50px;top:1087.58px;width:272.50px;height:47.93px;line-height:47.93px;padding-top:5px;letter-spacing:0.30px;">Task 5</div>
<div style="left:46.50px;top:1138.31px;width:272.50px;height:47.93px;background:#EAF5D6;"></div>
<div class="tl" style="left:46.50px;top:1138.31px;width:272.50px;height:47.93px;line-height:47.93px;padding-top:5px;letter-spacing:0.30px;">Task 6</div>
<div style="left:46.50px;top:1189.04px;width:272.50px;height:47.93px;background:#EAF5D6;"></div>
<div class="tl" style="left:46.50px;top:1189.04px;width:272.50px;height:47.93px;line-height:47.93px;padding-top:5px;letter-spacing:0.30px;">Task 7</div>
<div style="left:46.50px;top:1239.77px;width:272.50px;height:46.13px;background:#EAF5D6;"></div>
<div class="tl" style="left:46.50px;top:1239.77px;width:272.50px;height:46.13px;line-height:46.13px;padding-top:5px;letter-spacing:0.30px;">Task 8</div>
<div style="left:46.50px;top:1289.50px;width:272.50px;height:63.15px;background:#7B7B7B;"></div>
<div class="pl" style="left:46.50px;top:1289.50px;width:272.50px;height:63.15px;line-height:63.15px;padding-top:3px;letter-spacing:-0.70px;">PROJECT THREE</div>
<div style="left:46.50px;top:1352.65px;width:272.50px;height:50.47px;background:#EDEDED;"></div>
<div class="tl" style="left:46.50px;top:1352.65px;width:272.50px;height:50.47px;line-height:50.47px;padding-top:5px;">Task 1</div>
<div style="left:46.50px;top:1405.92px;width:272.50px;height:47.97px;background:#EDEDED;"></div>
<div class="tl" style="left:46.50px;top:1405.92px;width:272.50px;height:47.97px;line-height:47.97px;padding-top:5px;letter-spacing:0.30px;">Task 2</div>
<div style="left:46.50px;top:1456.69px;width:272.50px;height:47.97px;background:#EDEDED;"></div>
<div class="tl" style="left:46.50px;top:1456.69px;width:272.50px;height:47.97px;line-height:47.97px;padding-top:5px;letter-spacing:0.30px;">Task 3</div>
<div style="left:46.50px;top:1507.46px;width:272.50px;height:47.97px;background:#EDEDED;"></div>
<div class="tl" style="left:46.50px;top:1507.46px;width:272.50px;height:47.97px;line-height:47.97px;padding-top:5px;letter-spacing:0.10px;">Task 4</div>
<div style="left:46.50px;top:1558.23px;width:272.50px;height:47.97px;background:#EDEDED;"></div>
<div class="tl" style="left:46.50px;top:1558.23px;width:272.50px;height:47.97px;line-height:47.97px;padding-top:5px;letter-spacing:0.30px;">Task 5</div>
<div style="left:46.50px;top:1608.99px;width:272.50px;height:47.97px;background:#EDEDED;"></div>
<div class="tl" style="left:46.50px;top:1608.99px;width:272.50px;height:47.97px;line-height:47.97px;padding-top:5px;letter-spacing:0.30px;">Task 6</div>
<div style="left:46.50px;top:1659.76px;width:272.50px;height:47.97px;background:#EDEDED;"></div>
<div class="tl" style="left:46.50px;top:1659.76px;width:272.50px;height:47.97px;line-height:47.97px;padding-top:5px;letter-spacing:0.30px;">Task 7</div>
<div style="left:46.50px;top:1710.53px;width:272.50px;height:46.17px;background:#EDEDED;"></div>
<div class="tl" style="left:46.50px;top:1710.53px;width:272.50px;height:46.17px;line-height:46.17px;padding-top:5px;letter-spacing:0.30px;">Task 8</div>
<div style="left:46.50px;top:1760.30px;width:272.50px;height:63.60px;background:#BF8F00;"></div>
<div class="pl" style="left:46.50px;top:1760.30px;width:272.50px;height:63.60px;line-height:63.60px;padding-top:3px;letter-spacing:-0.32px;">PROJECT FOUR</div>
<div style="left:46.50px;top:1823.90px;width:272.50px;height:50.44px;background:#FFF2CC;"></div>
<div class="tl" style="left:46.50px;top:1823.90px;width:272.50px;height:50.44px;line-height:50.44px;padding-top:5px;">Task 1</div>
<div style="left:46.50px;top:1877.14px;width:272.50px;height:47.94px;background:#FFF2CC;"></div>
<div class="tl" style="left:46.50px;top:1877.14px;width:272.50px;height:47.94px;line-height:47.94px;padding-top:5px;letter-spacing:0.30px;">Task 2</div>
<div style="left:46.50px;top:1927.88px;width:272.50px;height:47.94px;background:#FFF2CC;"></div>
<div class="tl" style="left:46.50px;top:1927.88px;width:272.50px;height:47.94px;line-height:47.94px;padding-top:5px;letter-spacing:0.30px;">Task 3</div>
<div style="left:46.50px;top:1978.61px;width:272.50px;height:47.94px;background:#FFF2CC;"></div>
<div class="tl" style="left:46.50px;top:1978.61px;width:272.50px;height:47.94px;line-height:47.94px;padding-top:5px;letter-spacing:0.10px;">Task 4</div>
<div style="left:46.50px;top:2029.35px;width:272.50px;height:47.94px;background:#FFF2CC;"></div>
<div class="tl" style="left:46.50px;top:2029.35px;width:272.50px;height:47.94px;line-height:47.94px;padding-top:5px;letter-spacing:0.30px;">Task 5</div>
<div style="left:46.50px;top:2080.09px;width:272.50px;height:47.94px;background:#FFF2CC;"></div>
<div class="tl" style="left:46.50px;top:2080.09px;width:272.50px;height:47.94px;line-height:47.94px;padding-top:5px;letter-spacing:0.30px;">Task 6</div>
<div style="left:46.50px;top:2130.83px;width:272.50px;height:47.94px;background:#FFF2CC;"></div>
<div class="tl" style="left:46.50px;top:2130.83px;width:272.50px;height:47.94px;line-height:47.94px;padding-top:5px;letter-spacing:0.30px;">Task 7</div>
<div style="left:46.50px;top:2181.56px;width:272.50px;height:45.94px;background:#FFF2CC;"></div>
<div class="tl" style="left:46.50px;top:2181.56px;width:272.50px;height:45.94px;line-height:45.94px;padding-top:5px;letter-spacing:0.30px;">Task 8</div>
<div class="bar" style="left:711.20px;top:407.20px;width:338.10px;height:49.50px;background:#44546A;"></div>
<div class="bar" style="left:760.00px;top:470.75px;width:95.30px;height:41.55px;background:#8497B0;"></div>
<div class="bar" style="left:808.40px;top:521.60px;width:97.20px;height:41.30px;background:#8497B0;"></div>
<div class="bar" style="left:808.40px;top:572.20px;width:97.20px;height:41.50px;background:#8497B0;"></div>
<div class="bar" style="left:865.90px;top:623.00px;width:96.90px;height:41.00px;background:#8497B0;"></div>
<div class="bar" style="left:865.90px;top:673.60px;width:96.90px;height:41.30px;background:#8497B0;"></div>
<div class="bar" style="left:865.90px;top:724.40px;width:96.90px;height:41.00px;background:#8497B0;"></div>
<div class="bar" style="left:952.70px;top:775.20px;width:96.60px;height:41.10px;background:#8497B0;"></div>
<div class="bar" style="left:857.10px;top:825.60px;width:969.70px;height:49.60px;background:#00BA31;"></div>
<div class="bar" style="left:967.50px;top:890.80px;width:141.00px;height:41.50px;background:#92D050;"></div>
<div class="bar" style="left:910.00px;top:939.00px;width:90.80px;height:43.90px;background:#92D050;"></div>
<div class="bar" style="left:954.20px;top:990.10px;width:97.50px;height:43.60px;background:#92D050;"></div>
<div class="bar" style="left:1001.40px;top:1040.60px;width:145.30px;height:43.90px;background:#92D050;"></div>
<div class="bar" style="left:1153.30px;top:1091.50px;width:90.60px;height:43.50px;background:#92D050;"></div>
<div class="bar" style="left:1197.30px;top:1142.00px;width:96.80px;height:43.60px;background:#92D050;"></div>
<div class="bar" style="left:1244.20px;top:1192.80px;width:145.30px;height:43.60px;background:#92D050;"></div>
<div class="bar" style="left:1353.70px;top:1243.70px;width:473.10px;height:43.00px;background:#92D050;"></div>
<div class="bar" style="left:1056.20px;top:1294.70px;width:1017.50px;height:49.00px;background:#7B7B7B;"></div>
<div class="bar" style="left:1113.00px;top:1360.20px;width:714.40px;height:43.00px;background:#A5A5A5;"></div>
<div class="bar" style="left:1160.00px;top:1410.80px;width:622.00px;height:43.30px;background:#A5A5A5;"></div>
<div class="bar" style="left:1210.50px;top:1461.30px;width:132.30px;height:43.30px;background:#A5A5A5;"></div>
<div class="bar" style="left:1307.30px;top:1511.80px;width:153.70px;height:43.90px;background:#A5A5A5;"></div>
<div class="bar" style="left:1451.10px;top:1562.40px;width:619.90px;height:43.90px;background:#A5A5A5;"></div>
<div class="bar" style="left:1642.10px;top:1613.50px;width:374.50px;height:43.60px;background:#A5A5A5;"></div>
<div class="bar" style="left:2026.50px;top:1664.00px;width:21.70px;height:43.60px;background:#A5A5A5;"></div>
<div class="bar" style="left:2065.60px;top:1714.60px;width:4.50px;height:42.10px;background:#A5A5A5;"></div>
<div class="bar" style="left:1298.50px;top:1767.10px;width:1208.60px;height:49.90px;background:#DFA800;"></div>
<div class="bar" style="left:1402.30px;top:1830.20px;width:44.20px;height:43.70px;background:#FFC000;"></div>
<div class="bar" style="left:1448.60px;top:1881.40px;width:38.20px;height:43.30px;background:#FFC000;"></div>
<div class="bar" style="left:1448.60px;top:1931.90px;width:462.70px;height:43.60px;background:#FFC000;"></div>
<div class="bar" style="left:1744.30px;top:1982.40px;width:65.50px;height:43.60px;background:#FFC000;"></div>
<div class="bar" style="left:1744.30px;top:2033.30px;width:65.50px;height:43.60px;background:#FFC000;"></div>
<div class="bar" style="left:1744.30px;top:2083.80px;width:65.50px;height:43.60px;background:#FFC000;"></div>
<div class="bar" style="left:1744.30px;top:2134.60px;width:65.50px;height:43.60px;background:#FFC000;"></div>
<div class="bar" style="left:1746.40px;top:2185.50px;width:760.70px;height:43.30px;background:#FFC000;"></div>
</div>
<div class="footer">Smartsheet Inc. &copy;2025</div>
</body>
</html>
